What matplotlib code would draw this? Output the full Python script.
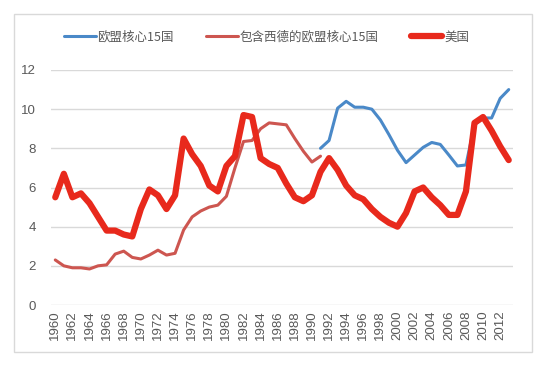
import numpy as np
import matplotlib
matplotlib.use('Agg')
import matplotlib.pyplot as plt
from matplotlib.patches import Rectangle

plt.rcParams['font.family'] = ['Noto Sans CJK SC', 'DejaVu Sans']

years = list(range(1960, 2014))

# 欧盟核心15国 (1991-2013)
eu15_years = list(range(1991, 2014))
eu15 = [8.0, 8.4, 10.05, 10.4, 10.1, 10.1, 10.0, 9.45, 8.7, 7.9, 7.27, 7.66,
        8.05, 8.3, 8.2, 7.66, 7.1, 7.15, 9.2, 9.55, 9.55, 10.55, 11.0]

# 包含西德的欧盟核心15国 (1960-1991)
eu15wg_years = list(range(1960, 1992))
eu15wg = [2.3, 2.0, 1.9, 1.9, 1.84, 2.0, 2.05, 2.6, 2.75, 2.43, 2.35, 2.55,
          2.8, 2.55, 2.64, 3.83, 4.5, 4.8, 5.0, 5.1, 5.55, 7.0, 8.35, 8.4,
          9.0, 9.3, 9.25, 9.2, 8.5, 7.85, 7.3, 7.6]

# 美国 (1960-2013)
us = [5.5, 6.7, 5.5, 5.7, 5.2, 4.5, 3.8, 3.8, 3.6, 3.5, 4.9, 5.9, 5.6, 4.9,
      5.6, 8.5, 7.7, 7.1, 6.1, 5.8, 7.1, 7.6, 9.7, 9.6, 7.5, 7.2, 7.0, 6.2,
      5.5, 5.3, 5.6, 6.8, 7.5, 6.9, 6.1, 5.6, 5.4, 4.9, 4.5, 4.2, 4.0, 4.7,
      5.8, 6.0, 5.5, 5.1, 4.6, 4.6, 5.8, 9.3, 9.6, 8.9, 8.1, 7.4]

yticks = [0, 2, 4, 6, 8, 10, 12]

fig = plt.figure(figsize=(5.5, 3.7), dpi=100)
ax = fig.add_axes([51/550, 65/370, 462/550, 235/370])

# outer frame of the chart
fig.patches.append(Rectangle((14/550, 18/370), 518/550, 338/370,
                             transform=fig.transFigure, fill=False,
                             edgecolor='#D9D9D9', linewidth=1))

ax.plot(eu15_years, eu15, color='#4A89C8', lw=2.2, label='欧盟核心15国',
        solid_capstyle='round', zorder=3)
ax.plot(eu15wg_years, eu15wg, color='#CD5650', lw=2.2, label='包含西德的欧盟核心15国',
        solid_capstyle='round', zorder=3)
ax.plot(years, us, color='#E8291C', lw=4.5, label='美国',
        solid_capstyle='round', solid_joinstyle='round', zorder=4)

ax.set_xlim(1959.5, 2013.5)
ax.set_ylim(0, 12)
ax.set_yticks(yticks)
ax.set_xticks(years[::2])
ax.set_xticklabels([str(y) for y in years[::2]], rotation=90)
for lab in ax.get_xticklabels() + ax.get_yticklabels():
    lab.set_fontfamily(['Liberation Sans', 'DejaVu Sans'])
ax.tick_params(axis='both', length=0, colors='#595959', labelsize=9.5)
ax.tick_params(axis='y', pad=11)
ax.tick_params(axis='x', pad=4)
ax.grid(axis='y', color='#D9D9D9', lw=1)
ax.set_axisbelow(True)
for s in ax.spines.values():
    s.set_visible(False)

fig.legend(loc='center', bbox_to_anchor=(0.485, 0.9), ncol=3, frameon=False,
           fontsize=9, handlelength=2.5, handletextpad=0.15, columnspacing=2.6,
           labelcolor='#595959')

fig.savefig('out.png', dpi=100)
